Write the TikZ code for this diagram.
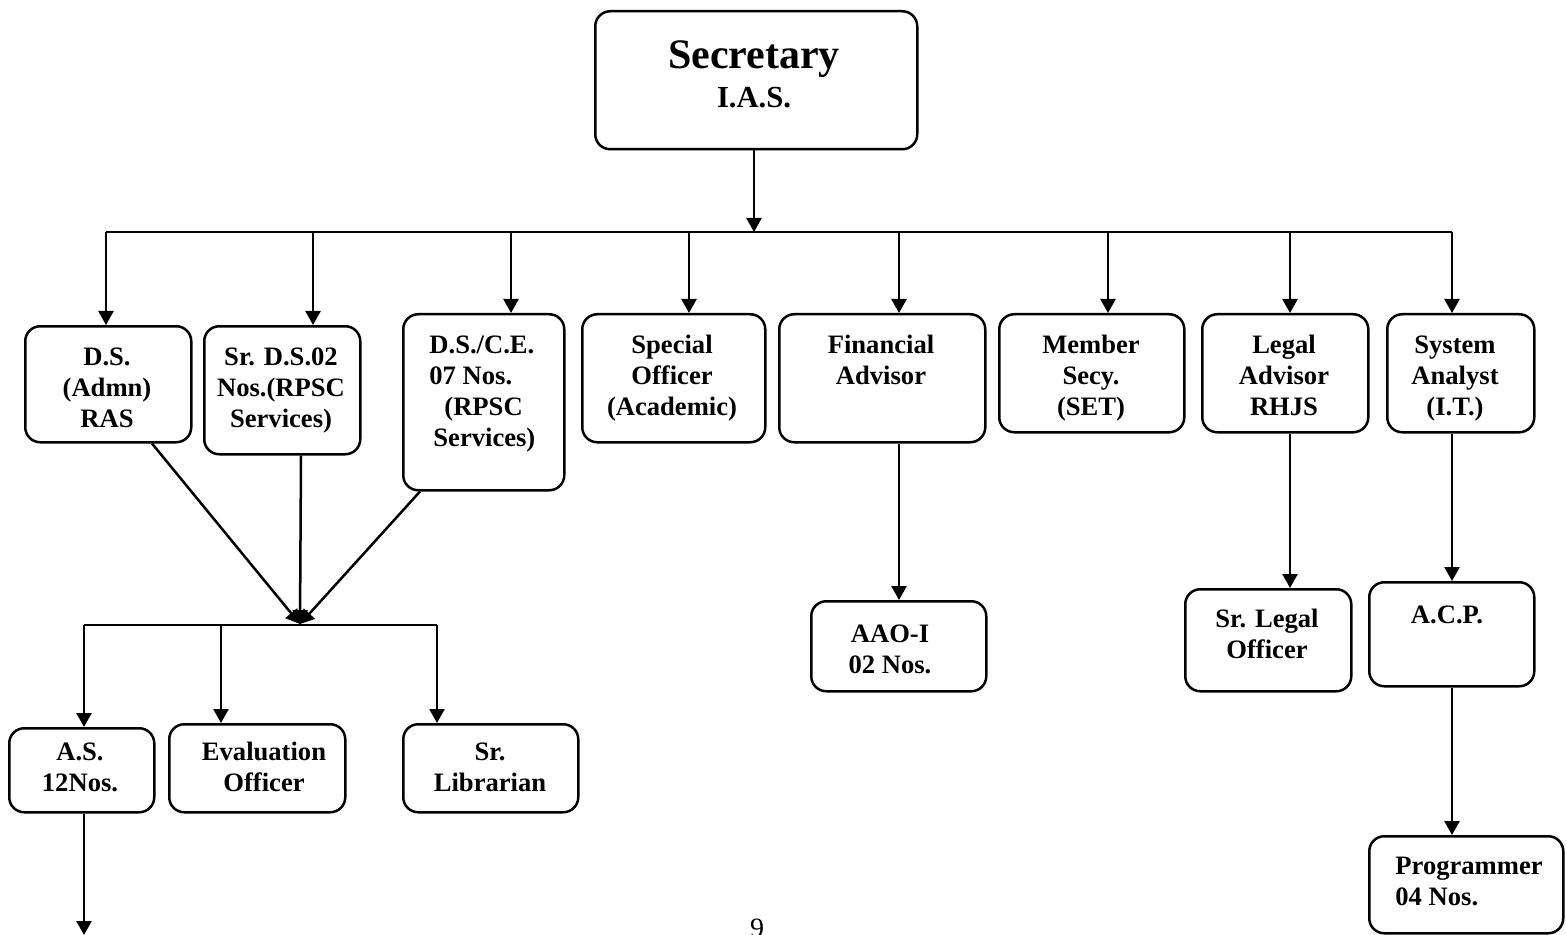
\documentclass[tikz,border=0pt]{standalone}
\usepackage{fontspec}
\setmainfont{Liberation Serif}
\usetikzlibrary{arrows.meta}
\begin{document}
\begin{tikzpicture}[x=0.5pt,y=-0.5pt,
  box/.style={draw,line width=1.25pt,rounded corners=7.5pt,inner sep=0,anchor=north west},
  txt/.style={font=\fontsize{13.3}{15.5}\selectfont\bfseries,align=center,inner sep=0,anchor=north},
  arr/.style={line width=1.25pt,-{Triangle[width=7.5pt,length=7pt]}},
  ln/.style={line width=1.25pt}]
\useasboundingbox (0,0) rectangle (1566,935);
% boxes
\node[box,minimum width=161pt,minimum height=69pt] (sec) at (594,10) {};
\node[box,minimum width=83pt,minimum height=58pt] (ds) at (24,325) {};
\node[box,minimum width=78pt,minimum height=64pt] (srds) at (203,325) {};
\node[box,minimum width=80.5pt,minimum height=88pt] (dsce) at (402,313) {};
\node[box,minimum width=91.5pt,minimum height=64pt] (so) at (581,313) {};
\node[box,minimum width=103pt,minimum height=64pt] (fa) at (778,313) {};
\node[box,minimum width=92.5pt,minimum height=59pt] (ms) at (998,313) {};
\node[box,minimum width=83pt,minimum height=59pt] (la) at (1201,313) {};
\node[box,minimum width=73.5pt,minimum height=59pt] (sa) at (1386,313) {};
\node[box,minimum width=87.5pt,minimum height=45pt] (aao) at (810,600) {};
\node[box,minimum width=83pt,minimum height=51pt] (srl) at (1184,588) {};
\node[box,minimum width=82.5pt,minimum height=52pt] (acp) at (1368,581) {};
\node[box,minimum width=72.5pt,minimum height=42pt] (as) at (8,727) {};
\node[box,minimum width=88pt,minimum height=44pt] (eo) at (168,723) {};
\node[box,minimum width=87.5pt,minimum height=44pt] (lib) at (402,723) {};
\node[box,minimum width=97pt,minimum height=48.5pt] (prog) at (1368,835) {};
% texts
\node[inner sep=0,anchor=base,font=\fontsize{21}{24}\selectfont\bfseries] (secA) at (754,69) {Secretary};
\node[inner sep=0,anchor=base,font=\fontsize{15.3}{18}\selectfont\bfseries] (secB) at (754,108) {I.A.S.};
\node[txt] (dsT) at (107,347) {D.S.\\(Admn)\\RAS};
\node[txt] (srdsT) at (281,347) {Sr. D.S.02\\Nos.(RPSC\\Services)};
\node[txt,align=left,anchor=north west] (dsceT) at (429,335) {D.S./C.E.\\07 Nos.\\\hspace*{7.5pt}(RPSC\\\hspace*{2pt}Services)};
\node[txt] (soT) at (672,335) {Special\\Officer\\(Academic)};
\node[txt] (faT) at (881,335) {Financial\\Advisor};
\node[txt] (msT) at (1091,335) {Member\\Secy.\\(SET)};
\node[txt] (laT) at (1284,335) {Legal\\Advisor\\RHJS};
\node[txt] (saT) at (1455,335) {System\\Analyst\\(I.T.)};
\node[txt] (aaoT) at (890,624) {AAO-I\\02 Nos.};
\node[txt] (srlT) at (1267,609) {Sr. Legal\\Officer};
\node[txt] (acpT) at (1447,605) {A.C.P.};
\node[txt] (asT) at (80,742) {A.S.\\12Nos.};
\node[txt] (eoT) at (264,742) {Evaluation\\Officer};
\node[txt] (libT) at (490,742) {Sr.\\Librarian};
\node[txt,align=left,anchor=north west] (progT) at (1395,857) {Programmer\\04 Nos.};
\node[inner sep=0,anchor=base,font=\fontsize{14}{16}\selectfont] (pg) at (757,937) {9};
% top bus
\coordinate (bus) at (754,232);
\coordinate (t1) at (106,232);
\coordinate (t2) at (313,232);
\coordinate (t3) at (511,232);
\coordinate (t4) at (689,232);
\coordinate (t5) at (899,232);
\coordinate (t6) at (1108,232);
\coordinate (t7) at (1290,232);
\coordinate (t8) at (1452,232);
\draw[arr] (sec.south -| bus) -- (bus);
\draw[ln] (t1) -- (t8);
\draw[arr] (t1) -- (t1 |- ds.north);
\draw[arr] (t2) -- (t2 |- srds.north);
\draw[arr] (t3) -- (t3 |- dsce.north);
\draw[arr] (t4) -- (t4 |- so.north);
\draw[arr] (t5) -- (t5 |- fa.north);
\draw[arr] (t6) -- (t6 |- ms.north);
\draw[arr] (t7) -- (t7 |- la.north);
\draw[arr] (t8) -- (t8 |- sa.north);
% right chains
\draw[arr] (t5 |- fa.south) -- (t5 |- aao.north);
\draw[arr] (t7 |- la.south) -- (t7 |- srl.north);
\draw[arr] (t8 |- sa.south) -- (t8 |- acp.north);
\draw[arr] (t8 |- acp.south) -- (t8 |- prog.north);
% converging
\coordinate (m) at (300,624);
\coordinate (c1) at (152,0);
\coordinate (c2) at (301,0);
\coordinate (c3) at (420,0);
\draw[arr] (c1 |- ds.south) -- (m);
\draw[arr] (c2 |- srds.south) -- (m);
\draw[arr] (c3 |- dsce.south) -- (m);
% lower bus
\coordinate (l1) at (84,625);
\coordinate (l2) at (221,625);
\coordinate (l3) at (437,625);
\draw[ln] (l1) -- (l3);
\draw[arr] (l1) -- (l1 |- as.north);
\draw[arr] (l2) -- (l2 |- eo.north);
\draw[arr] (l3) -- (l3 |- lib.north);
\coordinate (asend) at (84,935);
\draw[arr] (l1 |- as.south) -- (asend);
\end{tikzpicture}
\end{document}
